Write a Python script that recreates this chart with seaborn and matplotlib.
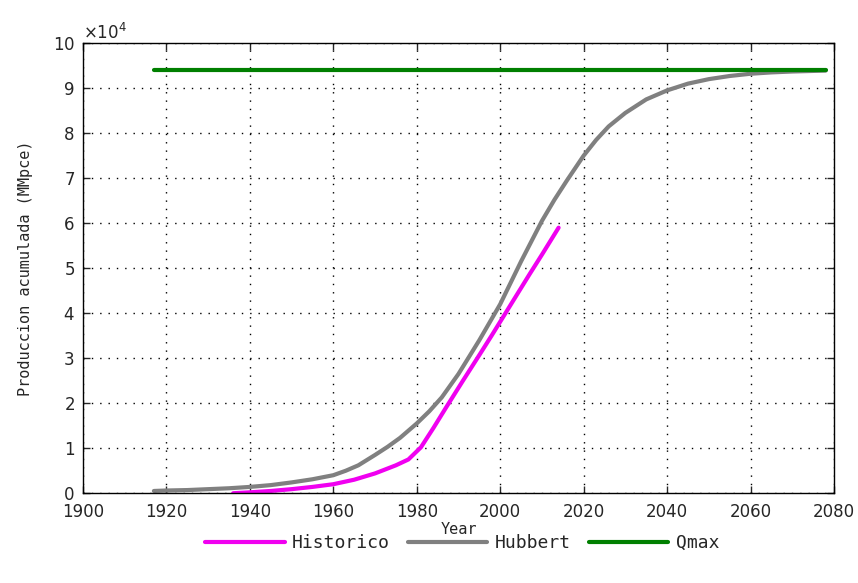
import numpy as np
import pandas as pd
import matplotlib
matplotlib.use("Agg")
import matplotlib.pyplot as plt
import seaborn as sns

# Cumulative production (MMpce)
hist_years = [1936, 1940, 1945, 1950, 1955, 1960, 1965, 1970, 1975, 1978, 1980, 1981,
              1984, 1987, 1991, 1995, 1998, 2001, 2004, 2007, 2010, 2014]
hist_vals = [0, 200, 500, 900, 1400, 2000, 3000, 4400, 6200, 7500, 9300, 10200,
             14500, 19000, 24900, 30700, 35100, 39600, 44100, 48600, 53000, 59000]

hub_years = [1917, 1920, 1925, 1930, 1935, 1940, 1945, 1950, 1955, 1960, 1963, 1966,
             1970, 1973, 1976, 1980, 1983, 1986, 1990, 1995, 2000, 2005, 2010, 2013,
             2016, 2020, 2023, 2026, 2030, 2035, 2040, 2045, 2050, 2055, 2060, 2065,
             2070, 2078]
hub_vals = [500, 600, 700, 900, 1100, 1400, 1800, 2400, 3100, 4000, 5000, 6200,
            8500, 10300, 12300, 15500, 18200, 21300, 26500, 34000, 42000, 51500, 60500, 65200,
            69500, 75000, 78500, 81500, 84500, 87500, 89500, 91000, 92000, 92700, 93200, 93500,
            93700, 93900]

qmax_years = [1917, 2078]
qmax_vals = [94000, 94000]

hist = pd.DataFrame({"Year": hist_years, "Q": hist_vals})
hub = pd.DataFrame({"Year": hub_years, "Q": hub_vals})
qmax = pd.DataFrame({"Year": qmax_years, "Q": qmax_vals})

sns.set_style("ticks")
plt.rcParams["font.family"] = ["DejaVu Sans"]

fig = plt.figure(figsize=(8.58, 5.83), dpi=100)
ax = fig.add_axes([0.0967, 0.154, 0.8753, 0.772])

sns.lineplot(data=hist, x="Year", y="Q", ax=ax, color="#f000f0", linewidth=3, label="Historico")
sns.lineplot(data=hub, x="Year", y="Q", ax=ax, color="#808080", linewidth=3, label="Hubbert")
sns.lineplot(data=qmax, x="Year", y="Q", ax=ax, color="#007f00", linewidth=3, label="Qmax")

ax.set_xlim(1900, 2080)
ax.set_ylim(0, 100000)
ax.set_xticks(np.arange(1900, 2081, 20))
ax.set_yticks(np.arange(0, 100001, 10000))
ax.ticklabel_format(axis="y", style="sci", scilimits=(4, 4), useMathText=True)
ax.yaxis.get_offset_text().set_fontsize(12)

ax.grid(True, color="black", linestyle=(0, (1, 5)), linewidth=1)
ax.tick_params(direction="in", top=True, right=True, labelsize=12, length=5, width=1)
ax.tick_params(axis="x", pad=7)
ax.tick_params(axis="y", pad=6)
for s in ax.spines.values():
    s.set_linewidth(1)
    s.set_color("black")

ax.set_xlabel("Year", fontsize=11, family="DejaVu Sans Mono", labelpad=1)
ax.set_ylabel("Produccion acumulada (MMpce)", fontsize=11, family="DejaVu Sans Mono", labelpad=14)

ax.legend(loc="center", bbox_to_anchor=(0.505, -0.111), ncol=3, frameon=False,
          handlelength=4.4, prop={"family": "DejaVu Sans Mono", "size": 13},
          columnspacing=1.0, handletextpad=0.4, borderpad=0)

fig.savefig("out.png", dpi=100)
